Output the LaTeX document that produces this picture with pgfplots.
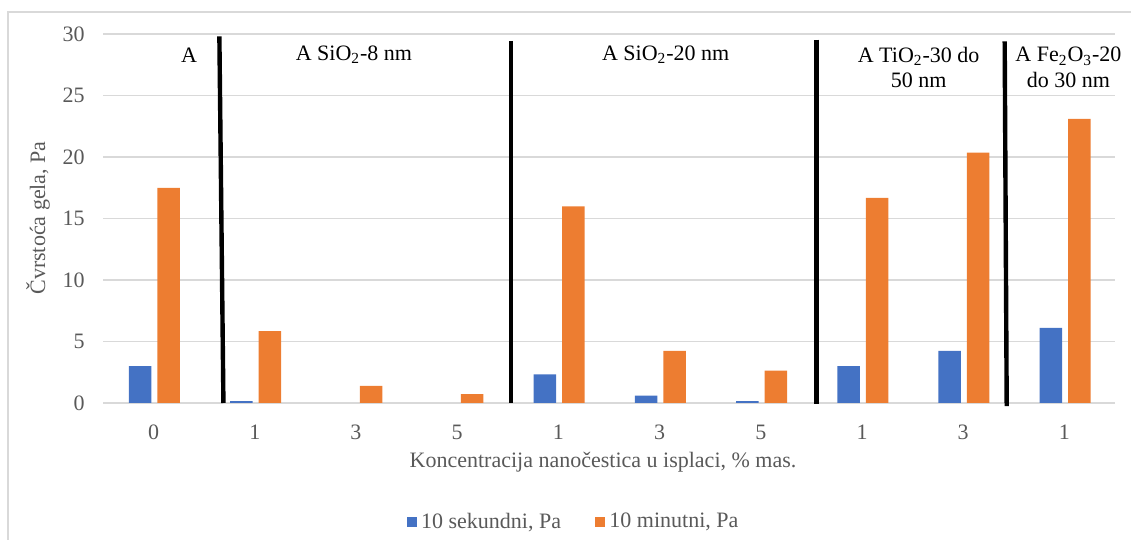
\documentclass[border=0pt]{standalone}
\usepackage{fontspec}
\setmainfont{Liberation Serif}
\usepackage{pgfplots}
\pgfplotsset{compat=1.18}
\definecolor{cblue}{HTML}{4472C4}
\definecolor{corange}{HTML}{ED7D31}
\definecolor{gridgray}{HTML}{D9D9D9}
\definecolor{textgray}{HTML}{595959}
\newcommand{\fs}{\fontsize{11}{12.6}\selectfont}
\begin{document}
\begin{tikzpicture}
\useasboundingbox (0,0) rectangle (565.5pt,270pt);
\draw[gridgray, line width=0.8pt] (4pt,0pt) -- (4pt,264pt) -- (566pt,264pt);
\begin{axis}[
  at={(51.5pt,68.5pt)}, anchor=south west,
  scale only axis, width=506pt, height=184.5pt,
  xmin=-0.5, xmax=9.5, ymin=0, ymax=30,
  axis line style={draw=none},
  ytick={0,5,...,30},
  xtick={0,...,9}, xticklabels={0,1,3,5,1,3,5,1,3,1},
  major tick length=0pt,
  ymajorgrids, grid style={draw=gridgray, line width=0.75pt},
  tick label style={font=\fs, text=textgray, inner sep=0pt},
  yticklabel style={xshift=-9pt},
  xticklabel style={yshift=-10.9pt},
  /pgf/number format/assume math mode=true,
  clip=false,
  legend columns=2,
  legend style={at={(axis description cs:0.466,-0.3225)}, anchor=center,
    draw=none, fill=none, font=\fs, text=textgray,
    /tikz/every even column/.append style={column sep=15pt}},
]
\addplot[ybar, bar width=11.25pt, bar shift=-6.75pt, fill=cblue, draw=none,
  legend image code/.code={\fill[cblue] (0pt,-2.6pt) rectangle (5.2pt,2.6pt);}]
  coordinates {(0,3.0) (1,0.16) (4,2.33) (5,0.59) (6,0.16) (7,3.0) (8,4.24) (9,6.11)};
\addlegendentry{10 sekundni, Pa}
\addplot[ybar, bar width=11.25pt, bar shift=7.5pt, fill=corange, draw=none,
  legend image code/.code={\fill[corange] (0pt,-2.6pt) rectangle (5.2pt,2.6pt);}]
  coordinates {(0,17.49) (1,5.85) (2,1.4) (3,0.72) (4,15.98) (5,4.24) (6,2.63) (7,16.68) (8,20.35) (9,23.1)};
\addlegendentry{10 minutni, Pa}
\draw[black, line width=2.2pt] (axis cs:0.65,29.8) -- (axis cs:0.69,0);
\draw[black, line width=2.2pt] (axis cs:3.53,29.45) -- (axis cs:3.53,0);
\draw[black, line width=2.2pt] (axis cs:6.55,29.55) -- (axis cs:6.55,-0.05);
\draw[black, line width=2.2pt] (axis cs:8.41,29.4) -- (axis cs:8.43,-0.25);
\node[font=\fs, anchor=center] at (axis cs:0.35,28.3) {A};
\node[font=\fs, anchor=center] at (axis cs:1.98,28.3) {A SiO\textsubscript{2}-8 nm};
\node[font=\fs, anchor=center] at (axis cs:5.06,28.3) {A SiO\textsubscript{2}-20 nm};
\node[font=\fs, anchor=center, align=center] at (axis cs:7.56,27.3) {A TiO\textsubscript{2}-30 do\\50 nm};
\node[font=\fs, anchor=center, align=center] at (axis cs:9.04,27.3) {A Fe\textsubscript{2}O\textsubscript{3}-20\\do 30 nm};
\end{axis}
\node[font=\fs, text=textgray, rotate=90, anchor=center] at (19pt,161pt) {Čvrstoća gela, Pa};
\node[font=\fs, text=textgray, anchor=center] at (301.5pt,39pt) {Koncentracija nanočestica u isplaci, \% mas.};
\end{tikzpicture}
\end{document}
